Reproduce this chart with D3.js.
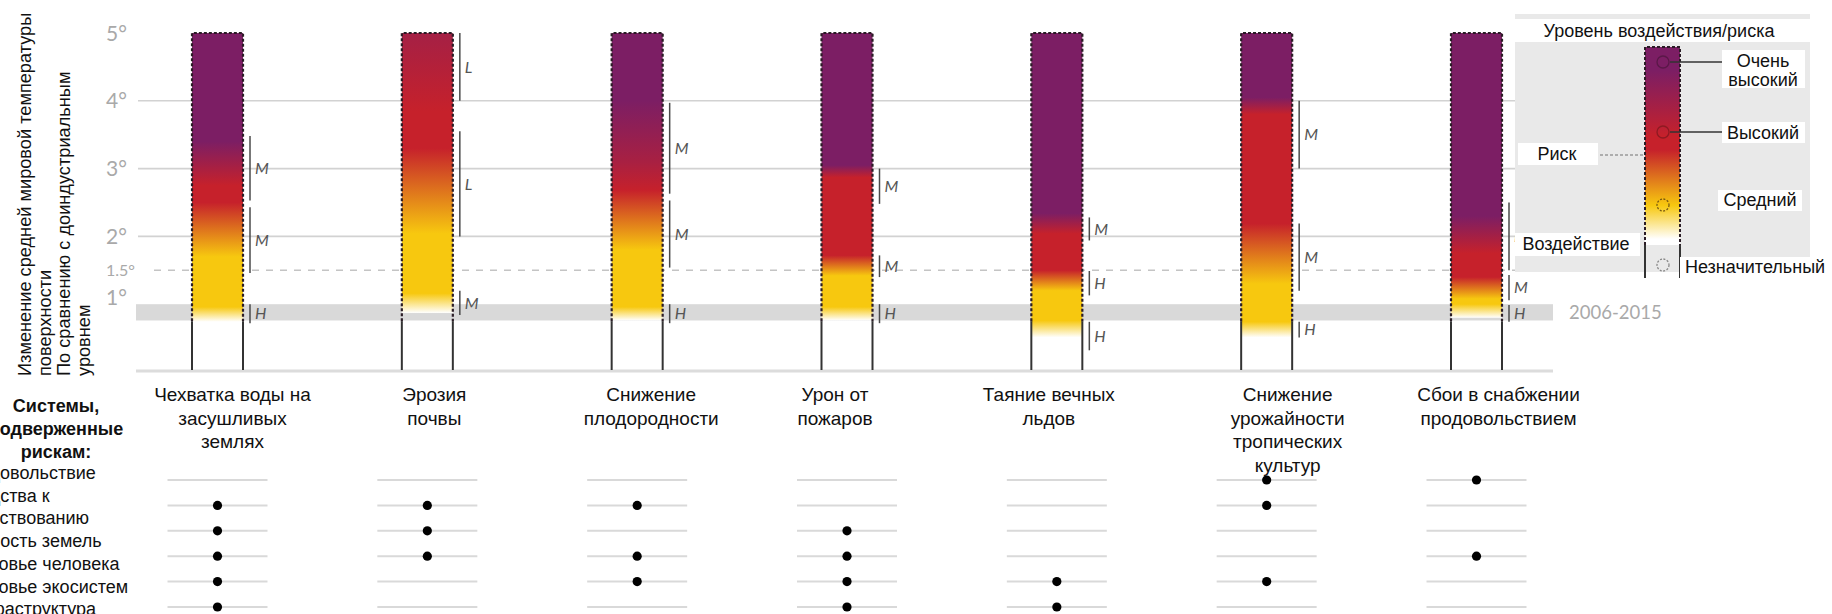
<!DOCTYPE html>
<html><head><meta charset="utf-8">
<script src="https://cdn.jsdelivr.net/npm/d3@7/dist/d3.min.js"></script>
<style>
  body { margin: 0; background: #fff; }
  svg { display: block; }
  text { font-family: "Liberation Sans", Arial, sans-serif; }
</style>
</head><body>
<svg id="chart" width="1832" height="614"></svg>
<script>
// ---- data ----
const categories = ["water", "erosion", "vegetation", "fire", "permafrost", "tropical", "supply"];

const categoryLines = [
  ["Чехватка воды на", "засушливых", "землях"],
  ["Эрозия", "почвы"],
  ["Снижение", "плодородности"],
  ["Урон от", "пожаров"],
  ["Таяние вечных", "льдов"],
  ["Снижение", "урожайности", "тропических", "культур"],
  ["Сбои в снабжении", "продовольствием"]
];

// risk level along each bar: [warming °C, level] — 0 undetectable, 1 moderate, 2 high, 3 very high
const riskStops = [
  [[0.74, 0], [0.96, 1], [1.7, 1], [2.5, 2], [2.75, 2], [3.4, 3], [5, 3]],
  [[0.87, 0], [1.16, 1], [2.04, 1], [3.3, 2], [3.85, 2], [5, 2.45]],
  [[0.76, 0], [0.96, 1], [1.8, 1], [2.68, 2], [3.1, 2.4], [4.0, 3], [5, 3]],
  [[0.76, 0], [0.96, 1], [1.42, 1], [1.72, 2], [2.87, 2], [3.05, 3], [5, 3]],
  [[0.51, 0], [0.76, 1], [1.2, 1], [1.5, 2], [2.04, 2], [2.34, 3], [5, 3]],
  [[0.51, 0], [0.74, 1], [1.3, 1], [2.19, 2], [3.8, 2], [4.05, 3], [5, 3]],
  [[0.8, 0], [1.0, 1], [1.08, 1], [1.4, 2], [1.75, 2], [2.3, 3], [5, 3]]
];

// confidence of each transition: [from °C, to °C, level]
const confidence = [
  [[3.48, 2.53, "M"], [2.43, 1.46, "M"], [1.0, 0.72, "H"]],
  [[5.0, 4.0, "L"], [3.55, 2.0, "L"], [1.2, 0.84, "M"]],
  [[3.97, 2.63, "M"], [2.53, 1.54, "M"], [1.0, 0.72, "H"]],
  [[3.0, 2.48, "M"], [1.72, 1.4, "M"], [1.0, 0.72, "H"]],
  [[2.28, 1.94, "M"], [1.49, 1.13, "H"], [0.74, 0.32, "H"]],
  [[4.0, 3.0, "M"], [2.19, 1.2, "M"], [0.74, 0.51, "H"]],
  [[2.5, 1.5, "M"], [1.43, 1.06, "M"], [0.99, 0.74, "H"]]
];

const systems = ["Продовольствие", "Средства к существованию", "Ценность земель",
                 "Здоровье человека", "Здоровье экосистем", "Инфраструктура"];
const systemLabelLines = ["Продовольствие", "Средства к", "существованию", "Ценность земель",
                          "Здоровье человека", "Здоровье экосистем", "Инфраструктура"];
// systems at risk, per category
const affected = [
  ["Средства к существованию", "Ценность земель", "Здоровье человека", "Здоровье экосистем", "Инфраструктура"],
  ["Средства к существованию", "Ценность земель", "Здоровье человека"],
  ["Средства к существованию", "Здоровье человека", "Здоровье экосистем"],
  ["Ценность земель", "Здоровье человека", "Здоровье экосистем", "Инфраструктура"],
  ["Здоровье экосистем", "Инфраструктура"],
  ["Продовольствие", "Средства к существованию", "Здоровье экосистем"],
  ["Продовольствие", "Здоровье человека"]
];

const tickValues = [5, 4, 3, 2, 1.5, 1];
const tickLabels = ["5°", "4°", "3°", "2°", "1.5°", "1°"];
const gridValues = [4, 3, 2];
const parisLevel = 1.5;
const presentDay = [0.76, 1.0];
const presentLabel = "2006-2015";
const riskImpactSplit = 0.75;

const axisTitle = ["Изменение средней мировой температуры", "поверхности",
                   "По сравнению с доиндустриальным", "уровнем"];
const systemsTitle = ["Системы,", "подверженные", "рискам:"];

const legendTitle = "Уровень воздействия/риска";
const legendLevels = ["Очень высокий", "Высокий", "Средний", "Незначительный"];
const legendStops = [[0, 3], [0.12, 3], [0.45, 2], [0.52, 2], [0.8, 1], [0.97, 0]];

// ---- layout ----
const svg = d3.select("#chart");
const W = 1832, H = 614;
svg.append("rect").attr("width", W).attr("height", H).attr("fill", "#fff");

const y = d3.scaleLinear().domain([0, 5]).range([372, 33]);
const x = d3.scalePoint().domain(categories).range([217.5, 1476.5]);
const barW = 51;
const plotLeft = 136, plotRight = 1553;
const levelColor = d3.scaleLinear().domain([0, 1, 2, 3])
  .range(["#ffffff", "#f7c80f", "#c6212b", "#7c1e64"]);
const labelNudge = [15, 7, 14, -12, -8, 21, 22];
const legendBox = { x: 1515, y: 14, w: 295, h: 258 };

const defs = svg.append("defs");

// present-day band
svg.append("rect")
  .attr("x", plotLeft).attr("width", plotRight - plotLeft)
  .attr("y", y(presentDay[1])).attr("height", y(presentDay[0]) - y(presentDay[1]))
  .attr("fill", "#d9d9d9");
svg.append("text").text(presentLabel)
  .attr("x", 1569).attr("y", y(0.88)).attr("dy", "0.35em")
  .attr("fill", "#a9a9a9").style("font-family", "Lato, 'Open Sans', sans-serif")
  .attr("font-size", 18.5);

// gridlines
svg.append("g").selectAll("line").data(gridValues).join("line")
  .attr("x1", plotLeft + 2).attr("x2", plotRight)
  .attr("y1", d => y(d)).attr("y2", d => y(d))
  .attr("stroke", "#d2d2d2").attr("stroke-width", 1.6);
svg.append("line")
  .attr("x1", plotLeft + 18).attr("x2", plotRight)
  .attr("y1", y(parisLevel)).attr("y2", y(parisLevel))
  .attr("stroke", "#c4c4c4").attr("stroke-width", 1.6).attr("stroke-dasharray", "7 7");
svg.append("line")
  .attr("x1", plotLeft).attr("x2", plotRight)
  .attr("y1", y(0) - 1).attr("y2", y(0) - 1)
  .attr("stroke", "#dcdcdc").attr("stroke-width", 3);

// tick labels
svg.append("g").selectAll("text").data(tickValues).join("text")
  .text((d, i) => tickLabels[i])
  .attr("x", 106)
  .attr("y", d => d === 1 ? y(d) - 7 : y(d))
  .attr("dy", "0.36em")
  .attr("fill", "#a9a9a9")
  .style("font-family", "Lato, 'Open Sans', sans-serif")
  .attr("font-size", d => d === 1.5 ? 16 : 21);

// bars
categories.forEach((c, i) => {
  const stops = riskStops[i].slice().sort((a, b) => b[0] - a[0]);
  const grad = defs.append("linearGradient").attr("id", "risk" + i)
    .attr("gradientUnits", "userSpaceOnUse")
    .attr("x1", 0).attr("x2", 0).attr("y1", y(5)).attr("y2", y(0));
  stops.forEach(([t, l]) => grad.append("stop")
    .attr("offset", (5 - t) / 5).attr("stop-color", levelColor(l)));

  const left = x(c) - barW / 2, right = x(c) + barW / 2;
  const low = d3.min(riskStops[i], d => d[0]);
  const g = svg.append("g");
  g.append("rect").attr("x", left).attr("width", barW)
    .attr("y", y(5)).attr("height", y(low) - y(5))
    .attr("fill", `url(#risk${i})`);
  // risk part: dashed outline
  g.append("path")
    .attr("d", `M${left},${y(riskImpactSplit)}V${y(5)}H${right}V${y(riskImpactSplit)}`)
    .attr("fill", "none").attr("stroke", "#2b1d26").attr("stroke-width", 2.2)
    .attr("stroke-dasharray", "3 2");
  // impact part: solid sides
  [left, right].forEach(px => g.append("line")
    .attr("x1", px).attr("x2", px).attr("y1", y(riskImpactSplit)).attr("y2", y(0) - 2)
    .attr("stroke", "#333").attr("stroke-width", 2));

  // confidence brackets
  const bx = right + 7;
  confidence[i].forEach(([a, b, lab]) => {
    g.append("line").attr("x1", bx).attr("x2", bx)
      .attr("y1", y(a)).attr("y2", y(b))
      .attr("stroke", "#4a4a4a").attr("stroke-width", 1.5);
    const ly = (y(a) + y(b)) / 2;
    const hidden = bx + 5 > legendBox.x && ly > legendBox.y && ly < legendBox.y + legendBox.h;
    if (hidden) return; // label sits under the legend panel
    g.append("text").text(lab)
      .attr("x", bx + 5).attr("y", ly).attr("dy", "0.36em")
      .attr("font-style", "italic").attr("font-size", 16).attr("fill", "#555")
      .style("font-family", "Lato, 'Open Sans', sans-serif");
  });

  // category label
  const lab = svg.append("text").attr("text-anchor", "middle").attr("font-size", 19).attr("fill", "#111");
  categoryLines[i].forEach((line, k) => lab.append("tspan")
    .attr("x", x(c) + labelNudge[i]).attr("y", 401 + k * 23.5).text(line));
});

// systems at risk
const rowY = d3.scalePoint().domain(systems).range([480, 607]);
categories.forEach((c, i) => {
  const g = svg.append("g");
  g.selectAll("line").data(systems).join("line")
    .attr("x1", x(c) - 50).attr("x2", x(c) + 50)
    .attr("y1", d => rowY(d)).attr("y2", d => rowY(d))
    .attr("stroke", "#d9d9d9").attr("stroke-width", 2);
  g.selectAll("circle").data(affected[i]).join("circle")
    .attr("cx", x(c)).attr("cy", d => rowY(d)).attr("r", 4.6)
    .attr("fill", "#000");
});

// left labels
const head = svg.append("text").attr("text-anchor", "middle").attr("font-weight", "bold")
  .attr("font-size", 18).attr("fill", "#111");
systemsTitle.forEach((t, k) => head.append("tspan").attr("x", 56).attr("y", 412 + k * 23).text(t));
const rows = svg.append("text").attr("font-size", 18).attr("fill", "#111");
systemLabelLines.forEach((t, k) => rows.append("tspan").attr("x", -43).attr("y", 479 + k * 22.7).text(t));

// axis title
const at = svg.append("text").attr("transform", "translate(0,376) rotate(-90)")
  .attr("font-size", 18.2).attr("fill", "#111");
axisTitle.forEach((t, k) => at.append("tspan").attr("x", 0).attr("y", 31 + k * 19.5).text(t));

// ---- legend ----
const lg = svg.append("g");
lg.append("rect").attr("x", legendBox.x).attr("y", legendBox.y)
  .attr("width", legendBox.w).attr("height", legendBox.h).attr("fill", "#e9e9e9");
function box(x0, y0, w, h) {
  lg.append("rect").attr("x", x0).attr("y", y0).attr("width", w).attr("height", h).attr("fill", "#fff");
}
box(1515, 19, 295, 23);
lg.append("text").text(legendTitle).attr("x", 1659).attr("y", 31).attr("dy", "0.35em")
  .attr("text-anchor", "middle").attr("font-size", 18).attr("fill", "#111");

const lgTop = 47, lgBot = 245, lgL = 1645, lgR = 1680;
const lgGrad = defs.append("linearGradient").attr("id", "legendRisk")
  .attr("x1", 0).attr("x2", 0).attr("y1", 0).attr("y2", 1);
legendStops.forEach(([f, l]) => lgGrad.append("stop").attr("offset", f).attr("stop-color", levelColor(l)));
lg.append("rect").attr("x", lgL).attr("y", lgTop).attr("width", lgR - lgL).attr("height", lgBot - lgTop)
  .attr("fill", "url(#legendRisk)");
lg.append("path").attr("d", `M${lgL},${lgBot}V${lgTop}H${lgR}V${lgBot}`)
  .attr("fill", "none").attr("stroke", "#2b1d26").attr("stroke-width", 2).attr("stroke-dasharray", "3 2");
[lgL, lgR].forEach(px => lg.append("line").attr("x1", px).attr("x2", px)
  .attr("y1", lgBot).attr("y2", 278).attr("stroke", "#333").attr("stroke-width", 2));

const markerY = [62, 132, 205, 265];
const markerStroke = ["#5a1848", "#8e1a22", "#7a5a10", "#888"];
markerY.forEach((my, k) => lg.append("circle").attr("cx", 1663).attr("cy", my).attr("r", 6)
  .attr("fill", "none").attr("stroke", markerStroke[k]).attr("stroke-width", 1.3)
  .attr("stroke-dasharray", k >= 2 ? "2 1.5" : null));
[62, 132].forEach(ly => lg.append("line").attr("x1", 1670).attr("x2", 1722)
  .attr("y1", ly).attr("y2", ly).attr("stroke", "#333").attr("stroke-width", 1.5));

box(1722, 50, 83, 38);
const vh = lg.append("text").attr("text-anchor", "middle").attr("font-size", 18).attr("fill", "#111");
vh.append("tspan").attr("x", 1763).attr("y", 67).text(legendLevels[0].split(" ")[0]);
vh.append("tspan").attr("x", 1763).attr("y", 86).text(legendLevels[0].split(" ")[1]);
box(1722, 122, 83, 21);
lg.append("text").text(legendLevels[1]).attr("x", 1763).attr("y", 133).attr("dy", "0.35em")
  .attr("text-anchor", "middle").attr("font-size", 18).attr("fill", "#111");
box(1718, 190, 84, 21);
lg.append("text").text(legendLevels[2]).attr("x", 1760).attr("y", 200).attr("dy", "0.35em")
  .attr("text-anchor", "middle").attr("font-size", 18).attr("fill", "#111");
box(1680, 257, 146, 21);
lg.append("text").text(legendLevels[3]).attr("x", 1685).attr("y", 267).attr("dy", "0.35em")
  .attr("font-size", 18).attr("fill", "#111");

box(1518, 143, 80, 22);
lg.append("text").text("Риск").attr("x", 1557).attr("y", 154).attr("dy", "0.35em")
  .attr("text-anchor", "middle").attr("font-size", 18).attr("fill", "#111");
lg.append("line").attr("x1", 1600).attr("x2", 1643).attr("y1", 155).attr("y2", 155)
  .attr("stroke", "#999").attr("stroke-width", 1.5).attr("stroke-dasharray", "3 2");
box(1515, 233, 125, 23);
lg.append("text").text("Воздействие").attr("x", 1576).attr("y", 244).attr("dy", "0.35em")
  .attr("text-anchor", "middle").attr("font-size", 18).attr("fill", "#111");
</script>
</body></html>
